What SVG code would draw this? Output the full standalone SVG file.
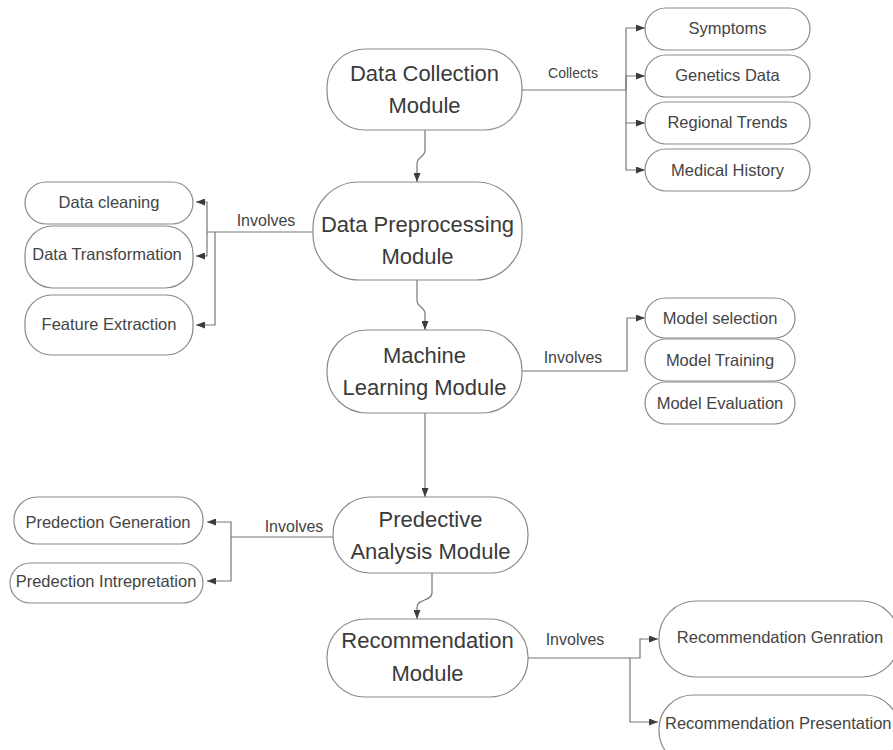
<svg xmlns="http://www.w3.org/2000/svg" width="893" height="750" viewBox="0 0 893 750">
<defs>
<marker id="arr" markerWidth="9" markerHeight="7" refX="9" refY="3.5" orient="auto" markerUnits="userSpaceOnUse">
<path d="M0,0 L9,3.5 L0,7 Z" fill="#3c3c3c"/>
</marker>
<style>
.box{fill:#fff;stroke:#8a8a8a;stroke-width:1.2}
.big{font-family:"Liberation Sans",Arial,sans-serif;font-size:22px;fill:#3a3a3a;text-anchor:middle}
.sm{font-family:"Liberation Sans",Arial,sans-serif;font-size:16.5px;fill:#444;text-anchor:middle}
.lbl{font-family:"Liberation Sans",Arial,sans-serif;font-size:16px;fill:#444;text-anchor:middle}
.ln{fill:none;stroke:#777;stroke-width:1.2}
</style>
</defs>
<rect width="893" height="750" fill="#fff"/>

<g id="connectors">
<path class="ln" d="M425 130 V150 C425 158 417 156 417 164 V182" marker-end="url(#arr)"/>
<path class="ln" d="M417 280 V300 C417 308 425 306 425 314 V330" marker-end="url(#arr)"/>
<path class="ln" d="M425 413 V497" marker-end="url(#arr)"/>
<path class="ln" d="M432 573 V593 C432 601 417 599 417 607 V619" marker-end="url(#arr)"/>

<path class="ln" d="M522 90 H626 V28 H645" marker-end="url(#arr)"/>
<path class="ln" d="M626 90 V76 H645" marker-end="url(#arr)"/>
<path class="ln" d="M626 90 V123 H645" marker-end="url(#arr)"/>
<path class="ln" d="M626 123 V170 H645" marker-end="url(#arr)"/>
<text class="lbl" x="573" y="78" style="font-size:14px">Collects</text>

<path class="ln" d="M313 232 H207 V202 H196" marker-end="url(#arr)"/>
<path class="ln" d="M207 232 V256 H196" marker-end="url(#arr)"/>
<path class="ln" d="M215 232 V325 H196" marker-end="url(#arr)"/>
<text class="lbl" x="266" y="226">Involves</text>

<path class="ln" d="M522 371 H627 V318 H645" marker-end="url(#arr)"/>
<text class="lbl" x="573" y="363">Involves</text>

<path class="ln" d="M333 537 H231 V522 H207" marker-end="url(#arr)"/>
<path class="ln" d="M231 537 V581 H207" marker-end="url(#arr)"/>
<text class="lbl" x="294" y="532">Involves</text>

<path class="ln" d="M528 658 H640 V639 H658" marker-end="url(#arr)"/>
<path class="ln" d="M630 658 V722 H658" marker-end="url(#arr)"/>
<text class="lbl" x="575" y="645">Involves</text>
</g>

<g id="data-collection">
<rect class="box" x="327" y="49" width="195" height="81" rx="38"/>
<text class="big" x="424.5" y="81">Data Collection</text>
<text class="big" x="424.5" y="113">Module</text>
</g>
<g id="data-preprocessing">
<rect class="box" x="313" y="182" width="209" height="98" rx="46"/>
<text class="big" x="417.5" y="232">Data Preprocessing</text>
<text class="big" x="417.5" y="264">Module</text>
</g>
<g id="machine-learning">
<rect class="box" x="327" y="330" width="195" height="83" rx="40"/>
<text class="big" x="424.5" y="363">Machine</text>
<text class="big" x="424.5" y="395">Learning Module</text>
</g>
<g id="predictive-analysis">
<rect class="box" x="333" y="497" width="195" height="76" rx="37"/>
<text class="big" x="430.5" y="527">Predective</text>
<text class="big" x="430.5" y="559">Analysis Module</text>
</g>
<g id="recommendation">
<rect class="box" x="327" y="619" width="201" height="78" rx="38"/>
<text class="big" x="427.5" y="648">Recommendation</text>
<text class="big" x="427.5" y="681">Module</text>
</g>

<g id="symptoms">
<rect class="box" x="645" y="8" width="165" height="42" rx="21"/>
<text class="sm" x="727.5" y="34">Symptoms</text>
</g>
<g id="genetics">
<rect class="box" x="645" y="55" width="165" height="42" rx="21"/>
<text class="sm" x="727.5" y="81">Genetics Data</text>
</g>
<g id="regional">
<rect class="box" x="645" y="102" width="165" height="42" rx="21"/>
<text class="sm" x="727.5" y="128">Regional Trends</text>
</g>
<g id="medical">
<rect class="box" x="645" y="149" width="165" height="42" rx="21"/>
<text class="sm" x="727.5" y="176">Medical History</text>
</g>

<g id="data-cleaning">
<rect class="box" x="25" y="182" width="168" height="42" rx="21"/>
<text class="sm" x="109" y="208">Data cleaning</text>
</g>
<g id="data-transformation">
<rect class="box" x="25" y="226" width="168" height="62" rx="28"/>
<text class="sm" x="107" y="260">Data Transformation</text>
</g>
<g id="feature-extraction">
<rect class="box" x="25" y="295" width="168" height="60" rx="27"/>
<text class="sm" x="109" y="330">Feature Extraction</text>
</g>

<g id="model-selection">
<rect class="box" x="645" y="298" width="150" height="40" rx="20"/>
<text class="sm" x="720" y="324">Model selection</text>
</g>
<g id="model-training">
<rect class="box" x="645" y="339" width="150" height="42" rx="21"/>
<text class="sm" x="720" y="366">Model Training</text>
</g>
<g id="model-evaluation">
<rect class="box" x="645" y="382" width="150" height="42" rx="21"/>
<text class="sm" x="720" y="409">Model Evaluation</text>
</g>

<g id="prediction-generation">
<rect class="box" x="14" y="497" width="189" height="47" rx="23"/>
<text class="sm" x="108" y="528">Predection Generation</text>
</g>
<g id="prediction-interpretation">
<rect class="box" x="10" y="563" width="193" height="40" rx="20"/>
<text class="sm" x="106" y="587">Predection Intrepretation</text>
</g>

<g id="recommendation-generation">
<rect class="box" x="659" y="601" width="240" height="76" rx="37"/>
<text class="sm" x="780" y="643">Recommendation Genration</text>
</g>
<g id="recommendation-presentation">
<rect class="box" x="659" y="695" width="240" height="70" rx="34"/>
<text class="sm" x="665" y="729" style="text-anchor:start">Recommendation Presentation</text>
</g>
</svg>
